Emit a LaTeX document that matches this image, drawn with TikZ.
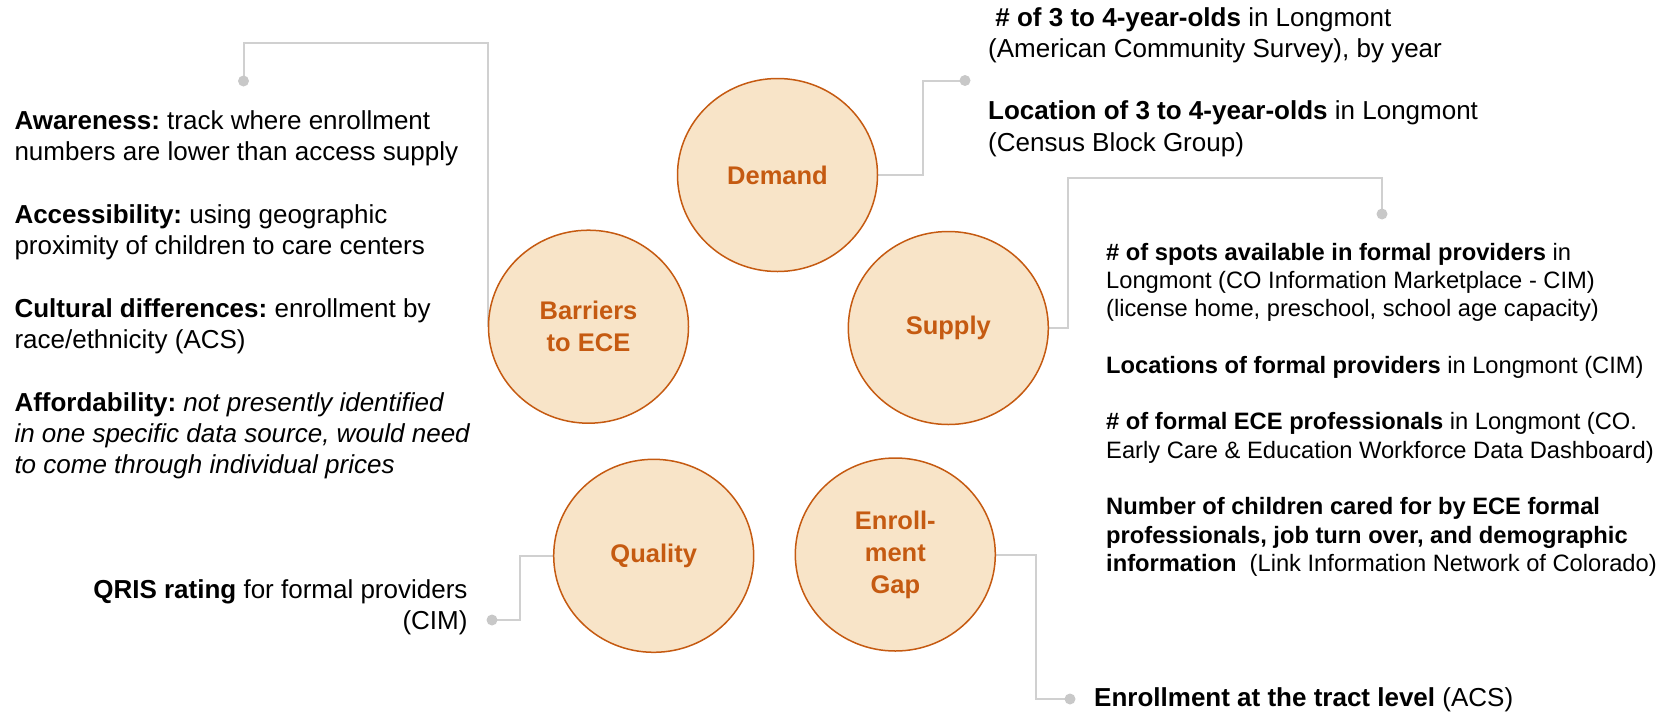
\documentclass[tikz,border=0pt]{standalone}
\usepackage{fontspec}
\setmainfont{Liberation Sans}
\usetikzlibrary{shapes.geometric,backgrounds}
\frenchspacing

\definecolor{peach}{HTML}{F8E4C8}
\definecolor{rust}{HTML}{C55A11}
\definecolor{wire}{HTML}{D0D0D0}
\definecolor{pin}{HTML}{C8C8C8}

% stacked lines whose baseline is the first line's baseline
\newcommand{\leftpara}[1]{\vtop{\halign{##\hfil\cr#1\crcr}}}
\newcommand{\rightpara}[1]{\vtop{\halign{\hfil##\cr#1\crcr}}}

\begin{document}
\begin{tikzpicture}[x=1pt,y=-1pt,
  topic/.style={ellipse, draw=rust, line width=1.5pt, fill=peach,
    minimum width=200pt, minimum height=193pt, inner sep=0pt,
    align=center, text=rust, font=\fontsize{25.5}{32}\selectfont\bfseries},
  bigtext/.style={inner sep=0pt, font=\fontsize{26}{31.3}\selectfont},
  smalltext/.style={inner sep=0pt, font=\fontsize{23.7}{28.3}\selectfont},
  wireline/.style={draw=wire, line width=2pt},
  pindot/.style={circle, fill=pin, minimum size=11pt, inner sep=0pt}]
\useasboundingbox (0,0) rectangle (1675,713);

% the five topics
\node[topic] (demand)   at (777.5,175)   {Demand};
\node[topic] (barriers) at (588.5,326.7) {Barriers\\to ECE};
\node[topic] (supply)   at (948.3,328)   {Supply};
\node[topic] (quality)  at (653.7,555.8) {Quality};
\node[topic] (gap)      at (895.3,554.5) {Enroll-\\ment\\Gap};

% barriers to ECE
\node[bigtext, anchor=base west] (aware) at (14.3,129.3)
  {\leftpara{\textbf{Awareness:} track where enrollment\cr
   numbers are lower than access supply}};
\node[bigtext, anchor=base west] (access) at (14.3,223.2)
  {\leftpara{\textbf{Accessibility:} using geographic\cr
   proximity of children to care centers}};
\node[bigtext, anchor=base west] (culture) at (14.3,317.1)
  {\leftpara{\textbf{Cultural differences:} enrollment by\cr
   race/ethnicity (ACS)}};
\node[bigtext, anchor=base west] (afford) at (14.3,411)
  {\leftpara{\textbf{Affordability:} \textit{not presently identified}\cr
   \textit{in one specific data source, would need}\cr
   \textit{to come through individual prices}}};

% demand
\node[bigtext, anchor=base west] (count) at (988,26)
  {\leftpara{\ \textbf{\# of 3 to 4-year-olds} in Longmont\cr
   (American Community Survey), by year}};
\node[bigtext, anchor=base west] (location) at (988,119.9)
  {\leftpara{\textbf{Location of 3 to 4-year-olds} in Longmont\cr
   (Census Block Group)}};

% supply
\node[smalltext, anchor=base west] (spots) at (1106,260)
  {\leftpara{\textbf{\# of spots available in formal providers} in\cr
   Longmont (CO Information Marketplace - CIM)\cr
   (license home, preschool, school age capacity)}};
\node[smalltext, anchor=base west] (places) at (1106,373.2)
  {\textbf{Locations of formal providers} in Longmont (CIM)};
\node[smalltext, anchor=base west] (staff) at (1106,429.8)
  {\leftpara{\textbf{\# of formal ECE professionals} in Longmont (CO.\cr
   Early Care \& Education Workforce Data Dashboard)}};
\node[smalltext, anchor=base west] (children) at (1106,514.7)
  {\leftpara{\textbf{Number of children cared for by ECE formal}\cr
   \textbf{professionals, job turn over, and demographic}\cr
   \textbf{information}\ \ (Link Information Network of Colorado)}};

% quality
\node[bigtext, anchor=base east] (qris) at (467.7,598)
  {\rightpara{\textbf{QRIS rating} for formal providers\cr (CIM)}};

% enrollment gap
\node[bigtext, anchor=base west] (tract) at (1094,706)
  {\textbf{Enrollment at the tract level} (ACS)};

% connector pins
\node[pindot] (bpin) at (243.5,81)  {};
\node[pindot] (dpin) at (965,80.5)  {};
\node[pindot] (spin) at (1382,214)  {};
\node[pindot] (qpin) at (492,620)   {};
\node[pindot] (gpin) at (1070,699)  {};

\coordinate (bturn) at (243.5,42.7);
\coordinate (dturn) at (923,80.5);
\coordinate (sturn) at (1068,178);
\coordinate (qturn) at (520,620);
\coordinate (gturn) at (1035.5,699);

\begin{scope}[on background layer]
  \draw[wireline] (barriers.west) |- (bturn) -- (bpin.center);
  \draw[wireline] (demand.east) -| (dturn) -- (dpin.center);
  \draw[wireline] (supply.east) -| (sturn) -| (spin.center);
  \draw[wireline] (quality.west) -| (qturn) -- (qpin.center);
  \draw[wireline] (gap.east) -| (gturn) -- (gpin.center);
\end{scope}
\end{tikzpicture}
\end{document}
